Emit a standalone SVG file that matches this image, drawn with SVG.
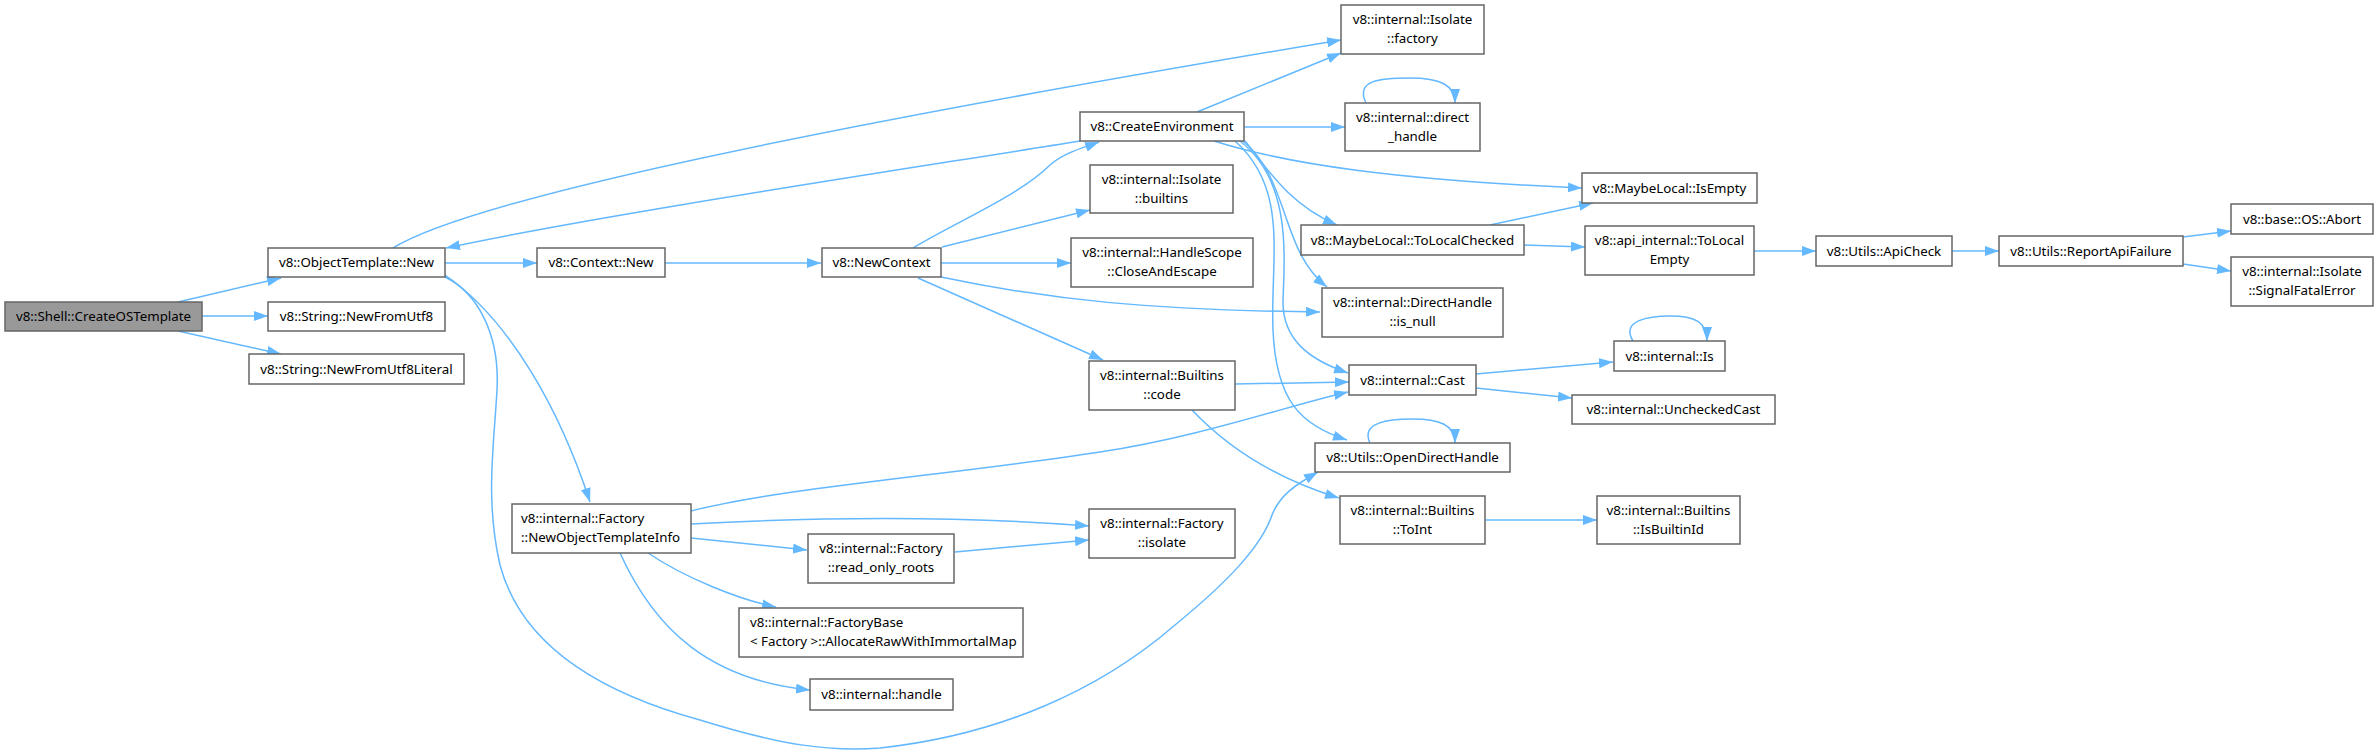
<svg xmlns="http://www.w3.org/2000/svg" width="2379" height="755" viewBox="0 0 2379 755">
<defs>
<marker id="ah" markerUnits="userSpaceOnUse" markerWidth="14" markerHeight="10" refX="14" refY="5" orient="auto">
<path d="M0,0 L14,5 L0,10 z" fill="#63b8ff"/>
</marker>
<style>
.n rect{fill:#fff;stroke:#666;stroke-width:1.5}
.n.root rect{fill:#999}
.n text{font-family:"Noto Sans","DejaVu Sans",sans-serif;font-size:13.33px;fill:#000;text-anchor:middle}
.n text.l{text-anchor:start}
#edges path{fill:none;stroke:#63b8ff;stroke-width:1.5;marker-end:url(#ah)}
</style>
</defs>
<rect width="2379" height="755" fill="#fff"/>
<g id="edges">
<path d="M178,302 L281,278"/>
<path d="M202,316 L268,316"/>
<path d="M178,331 L281,354"/>
<path d="M393,248 C470,200 800,130 1341,40"/>
<path d="M1080,141 C900,170 600,215 446,248"/>
<path d="M445,263 L537,263"/>
<path d="M445,275 C510,320 560,410 590,502"/>
<path d="M445,277 C478,293 500,335 497,390 C494,445 485,500 500,565 C520,640 590,690 700,720 C780,745 830,752 880,748 C1000,735 1100,690 1175,625 C1230,580 1262,545 1272,515 C1280,495 1295,485 1318,472"/>
<path d="M665,263 L821,263"/>
<path d="M913,248 C960,220 1020,195 1050,165 C1065,152 1083,148 1099,142"/>
<path d="M942,247 L1090,210"/>
<path d="M941,263 L1071,263"/>
<path d="M941,277 C1050,300 1150,310 1320,312"/>
<path d="M918,278 L1103,360"/>
<path d="M1197,112 L1341,53"/>
<path d="M1244,127 L1345,127"/>
<path d="M1214,141 C1290,165 1400,180 1582,188"/>
<path d="M1245,141 C1268,170 1290,205 1337,225"/>
<path d="M1243,141 C1290,180 1280,250 1327,287"/>
<path d="M1240,141 C1290,180 1285,250 1283,300 C1282,340 1310,360 1348,373"/>
<path d="M1235,141 C1290,190 1270,260 1273,330 C1276,400 1300,425 1347,440"/>
<path d="M1366,103 C1355,80 1380,78 1410,78 C1440,78 1455,85 1455,103"/>
<path d="M1490,225 L1593,203"/>
<path d="M1524,245 L1585,247"/>
<path d="M1754,251 L1816,251"/>
<path d="M1952,251 L1999,251"/>
<path d="M2183,237 L2231,231"/>
<path d="M2183,264 L2231,271"/>
<path d="M1235,384 L1349,382"/>
<path d="M1192,410 C1230,450 1280,480 1339,498"/>
<path d="M1476,374 L1613,362"/>
<path d="M1476,388 L1572,398"/>
<path d="M1633,341 C1620,320 1650,316 1670,316 C1695,316 1707,322 1707,341"/>
<path d="M1370,443 C1360,422 1390,419 1412,419 C1440,419 1455,425 1455,443"/>
<path d="M1485,520 L1597,520"/>
<path d="M691,511 C780,488 950,475 1100,452 C1200,437 1290,405 1348,392"/>
<path d="M691,524 C800,518 950,515 1089,526"/>
<path d="M691,538 L807,550"/>
<path d="M955,552 L1089,540"/>
<path d="M648,553 C685,578 740,600 776,607"/>
<path d="M620,553 C655,630 710,680 810,690"/>
</g>
<g id="n_createos" class="n root"><rect x="5" y="302" width="197" height="29"/><text x="103.5" y="321">v8::Shell::CreateOSTemplate</text></g>
<g id="n_objtpl" class="n"><rect x="268" y="248" width="177" height="29"/><text x="356.5" y="267">v8::ObjectTemplate::New</text></g>
<g id="n_newutf8" class="n"><rect x="268" y="302" width="177" height="29"/><text x="356.5" y="321">v8::String::NewFromUtf8</text></g>
<g id="n_newutf8lit" class="n"><rect x="249" y="354" width="215" height="30"/><text x="356.5" y="374">v8::String::NewFromUtf8Literal</text></g>
<g id="n_ctxnew" class="n"><rect x="537" y="248" width="128" height="29"/><text x="601" y="267">v8::Context::New</text></g>
<g id="n_newctx" class="n"><rect x="822" y="248" width="119" height="29"/><text x="881.5" y="267">v8::NewContext</text></g>
<g id="n_factory" class="n"><rect x="1341" y="5" width="143" height="49"/><text x="1412.5" y="24">v8::internal::Isolate</text><text x="1412.5" y="43">::factory</text></g>
<g id="n_createenv" class="n"><rect x="1080" y="112" width="164" height="29"/><text x="1162" y="131">v8::CreateEnvironment</text></g>
<g id="n_directhandle" class="n"><rect x="1345" y="103" width="135" height="48"/><text x="1412.5" y="122">v8::internal::direct</text><text x="1412.5" y="141">_handle</text></g>
<g id="n_builtins" class="n"><rect x="1090" y="165" width="143" height="48"/><text x="1161.5" y="184">v8::internal::Isolate</text><text x="1161.5" y="203">::builtins</text></g>
<g id="n_isempty" class="n"><rect x="1582" y="173" width="175" height="30"/><text x="1669.5" y="193">v8::MaybeLocal::IsEmpty</text></g>
<g id="n_tolocalchecked" class="n"><rect x="1301" y="225" width="223" height="30"/><text x="1412.5" y="245">v8::MaybeLocal::ToLocalChecked</text></g>
<g id="n_tolocalempty" class="n"><rect x="1585" y="226" width="169" height="49"/><text x="1669.5" y="245">v8::api_internal::ToLocal</text><text x="1669.5" y="264">Empty</text></g>
<g id="n_apicheck" class="n"><rect x="1816" y="236" width="136" height="30"/><text x="1884" y="256">v8::Utils::ApiCheck</text></g>
<g id="n_reportapi" class="n"><rect x="1999" y="236" width="184" height="30"/><text x="2091" y="256">v8::Utils::ReportApiFailure</text></g>
<g id="n_abort" class="n"><rect x="2231" y="204" width="142" height="30"/><text x="2302" y="224">v8::base::OS::Abort</text></g>
<g id="n_signalfatal" class="n"><rect x="2231" y="257" width="142" height="49"/><text x="2302" y="276">v8::internal::Isolate</text><text x="2302" y="295">::SignalFatalError</text></g>
<g id="n_handlescope" class="n"><rect x="1071" y="238" width="182" height="49"/><text x="1162" y="257">v8::internal::HandleScope</text><text x="1162" y="276">::CloseAndEscape</text></g>
<g id="n_isnull" class="n"><rect x="1322" y="288" width="181" height="49"/><text x="1412.5" y="307">v8::internal::DirectHandle</text><text x="1412.5" y="326">::is_null</text></g>
<g id="n_bcode" class="n"><rect x="1089" y="361" width="146" height="49"/><text x="1162" y="380">v8::internal::Builtins</text><text x="1162" y="399">::code</text></g>
<g id="n_cast" class="n"><rect x="1349" y="365" width="127" height="30"/><text x="1412.5" y="385">v8::internal::Cast</text></g>
<g id="n_is" class="n"><rect x="1614" y="341" width="111" height="30"/><text x="1669.5" y="361">v8::internal::Is</text></g>
<g id="n_unchecked" class="n"><rect x="1572" y="395" width="203" height="29"/><text x="1673.5" y="414">v8::internal::UncheckedCast</text></g>
<g id="n_opendirect" class="n"><rect x="1315" y="443" width="195" height="29"/><text x="1412.5" y="462">v8::Utils::OpenDirectHandle</text></g>
<g id="n_toint" class="n"><rect x="1340" y="496" width="145" height="48"/><text x="1412.5" y="515">v8::internal::Builtins</text><text x="1412.5" y="534">::ToInt</text></g>
<g id="n_isbuiltinid" class="n"><rect x="1597" y="496" width="143" height="48"/><text x="1668.5" y="515">v8::internal::Builtins</text><text x="1668.5" y="534">::IsBuiltinId</text></g>
<g id="n_newobjtplinfo" class="n"><rect x="512" y="504" width="179" height="49"/><text class="l" x="521" y="523">v8::internal::Factory</text><text class="l" x="521" y="542">::NewObjectTemplateInfo</text></g>
<g id="n_fisolate" class="n"><rect x="1089" y="509" width="146" height="49"/><text x="1162" y="528">v8::internal::Factory</text><text x="1162" y="547">::isolate</text></g>
<g id="n_readonly" class="n"><rect x="808" y="534" width="146" height="49"/><text x="881" y="553">v8::internal::Factory</text><text x="881" y="572">::read_only_roots</text></g>
<g id="n_factorybase" class="n"><rect x="739" y="608" width="284" height="49"/><text class="l" x="750" y="627">v8::internal::FactoryBase</text><text class="l" x="750" y="646">&lt; Factory &gt;::AllocateRawWithImmortalMap</text></g>
<g id="n_handle" class="n"><rect x="810" y="679" width="143" height="31"/><text x="881.5" y="699">v8::internal::handle</text></g>
</svg>
